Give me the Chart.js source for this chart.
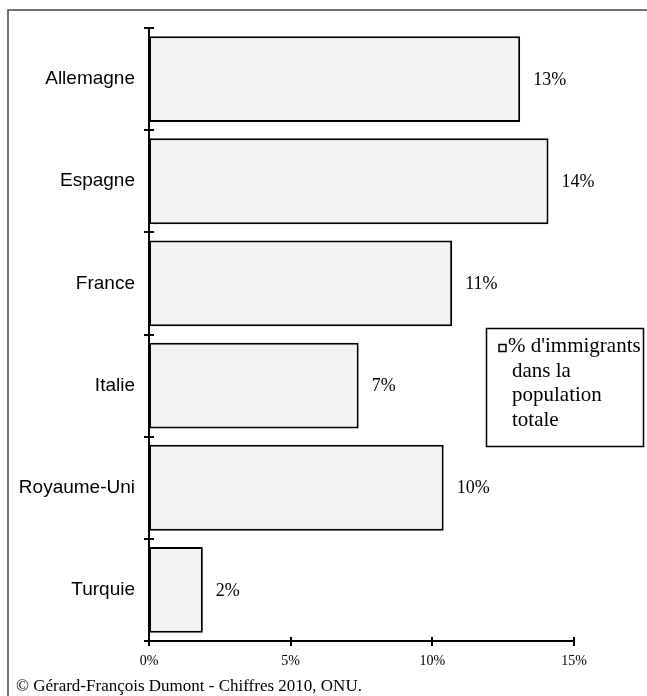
<!DOCTYPE html>
<html>
<head>
<meta charset="utf-8">
<script src="https://cdn.jsdelivr.net/npm/chart.js@4"></script>
<style>
  html, body { margin: 0; padding: 0; background: #fff; }
  canvas { display: block; }
</style>
</head>
<body>
<canvas id="c" width="647" height="696"></canvas>
<script>
// Countries, immigrant share of total population (%), axis ticks
const categories = ['Allemagne', 'Espagne', 'France', 'Italie', 'Royaume-Uni', 'Turquie'];
const shares = [13.1, 14.1, 10.7, 7.4, 10.4, 1.9];
const xTicks = [0, 5, 10, 15];
const legendLines = ["% d'immigrants", 'dans la', 'population', 'totale'];
const sourceNote = '\u00A9 G\u00E9rard-Fran\u00E7ois Dumont - Chiffres 2010, ONU.';

const SERIF = '"Liberation Serif", "Times New Roman", serif';
const SANS = '"Liberation Sans", Arial, sans-serif';

// Page frame, cross tick marks, value labels, legend box and source line
const decorations = {
  id: 'decorations',
  afterDraw(chart) {
    const ctx = chart.ctx;
    const xs = chart.scales.x;
    const ys = chart.scales.y;
    const area = chart.chartArea;
    ctx.save();

    // frame (top and left edges)
    ctx.strokeStyle = '#444';
    ctx.lineWidth = 1.5;
    ctx.beginPath();
    ctx.moveTo(8, chart.height);
    ctx.lineTo(8, 10);
    ctx.lineTo(chart.width, 10);
    ctx.stroke();

    // tick marks crossing the axes
    ctx.strokeStyle = '#000';
    ctx.lineWidth = 2;
    ctx.beginPath();
    xTicks.forEach(v => {
      const px = Math.round(xs.getPixelForValue(v));
      ctx.moveTo(px, area.bottom - 4);
      ctx.lineTo(px, area.bottom + 5);
    });
    for (let i = 0; i <= categories.length; i++) {
      const py = Math.round(ys.getPixelForValue(i - 0.5));
      ctx.moveTo(area.left - 5, py);
      ctx.lineTo(area.left + 5, py);
    }
    ctx.stroke();

    // value labels at bar ends
    const meta = chart.getDatasetMeta(0);
    ctx.fillStyle = '#000';
    ctx.font = '18px ' + SERIF;
    ctx.textAlign = 'left';
    ctx.textBaseline = 'middle';
    meta.data.forEach((bar, i) => {
      ctx.fillText(Math.round(shares[i]) + '%', bar.x + 13, bar.y + 1);
    });

    // legend
    const lx = 486.5, ly = 328.5, lw = 157, lh = 118;
    ctx.lineWidth = 1.5;
    ctx.strokeStyle = '#000';
    ctx.strokeRect(lx, ly, lw, lh);
    ctx.fillStyle = '#f2f2f2';
    ctx.fillRect(499, 344.5, 7, 7);
    ctx.strokeRect(499, 344.5, 7, 7);
    ctx.fillStyle = '#000';
    ctx.font = '21px ' + SERIF;
    ctx.textBaseline = 'alphabetic';
    legendLines.forEach((line, i) => {
      ctx.fillText(line, i === 0 ? 508 : 512, 352 + i * 24.5);
    });

    // source
    ctx.font = '17px ' + SERIF;
    ctx.fillText(sourceNote, 16, 691);
    ctx.restore();
  }
};

new Chart(document.getElementById('c'), {
  type: 'bar',
  data: {
    labels: categories,
    datasets: [{
      label: legendLines.join(' '),
      data: shares,
      backgroundColor: '#f2f2f2',
      borderColor: '#000',
      borderWidth: 2,
      borderSkipped: false,
      barPercentage: 0.84,
      categoryPercentage: 1
    }]
  },
  options: {
    indexAxis: 'y',
    responsive: false,
    animation: false,
    layout: { padding: { top: 28, right: 73, left: 0, bottom: 0 } },
    plugins: { legend: { display: false }, tooltip: { enabled: false } },
    scales: {
      x: {
        z: 1,
        min: 0,
        max: 15,
        afterBuildTicks(scale) { scale.ticks = xTicks.map(v => ({ value: v })); },
        afterFit(scale) { scale.height = 55; },
        grid: { display: false, drawTicks: false },
        border: { display: true, color: '#000', width: 2 },
        ticks: {
          padding: 12,
          color: '#000',
          font: { family: SERIF, size: 14 },
          callback: v => v + '%'
        }
      },
      y: {
        z: 1,
        afterFit(scale) { scale.width = 149; },
        grid: { display: false, drawTicks: false },
        border: { display: true, color: '#000', width: 2 },
        ticks: {
          padding: 14,
          color: '#000',
          font: { family: SANS, size: 19 }
        }
      }
    }
  },
  plugins: [decorations]
});
</script>
</body>
</html>
